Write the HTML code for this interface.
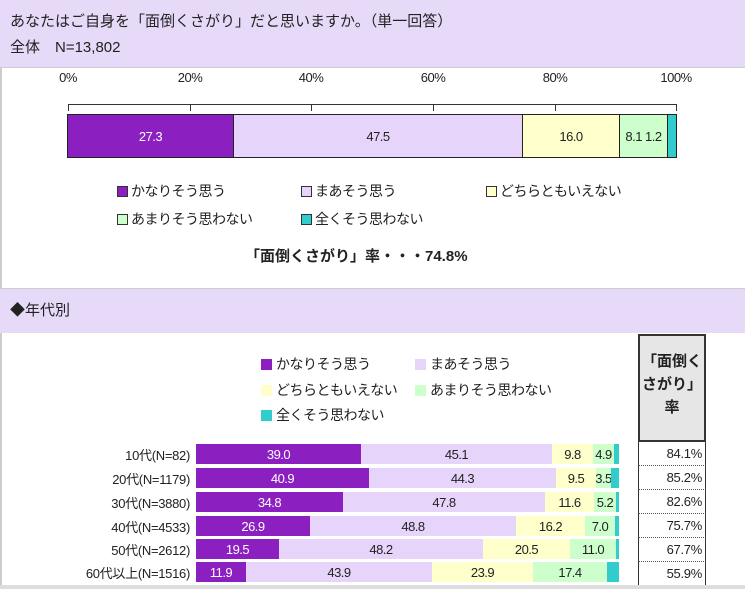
<!DOCTYPE html>
<html><head><meta charset="utf-8"><style>
*{margin:0;padding:0;box-sizing:border-box}
body{width:745px;height:589px;background:#fff;position:relative;overflow:hidden;font-family:"Liberation Sans","Noto Sans CJK JP",sans-serif;color:#222}
.a{position:absolute}
.band{left:0;width:745px;background:#e6daf8}
.bar{display:flex;position:absolute}
.bar div{display:flex;align-items:center;justify-content:center;font-size:13px;white-space:nowrap;overflow:visible;letter-spacing:-0.5px}
.p{background:#8c1fc0;color:#fff}.l{background:#e6d4fb}.y{background:#ffffcc}.g{background:#ccffcc}.t{background:#33cccc}
.tb div{border-right:1px solid #222}
.lg{font-size:14px;display:flex;align-items:center;white-space:nowrap;letter-spacing:-0.5px}
.sq{width:11px;height:11px;margin-right:3px;border:1px solid #333}
.sq2{width:11px;height:11px;margin-right:4px}
.lab{right:555px;font-size:13px;text-align:right;white-space:nowrap;letter-spacing:-0.3px}
.val{left:638px;width:68px;font-size:13px;text-align:right;padding-right:4px;border-bottom:1px dotted #555;height:24px;line-height:24px;letter-spacing:-0.3px}
.ax{font-size:13px;width:60px;text-align:center;top:70px;letter-spacing:-0.5px}
</style></head><body>
<div class="a" style="left:0;top:0;width:2px;height:589px;background:#ccc"></div>
<div class="a band" style="top:0;height:68px;border-bottom:1px solid #ccc"></div>
<div class="a" style="left:10px;top:10px;font-size:15px">あなたはご自身を「面倒くさがり」だと思いますか。（単一回答）</div>
<div class="a" style="left:10px;top:36px;font-size:15px">全体　N=13,802</div>
<div class="a ax" style="left:38px">0%</div>
<div class="a ax" style="left:160px">20%</div>
<div class="a ax" style="left:281px">40%</div>
<div class="a ax" style="left:403px">60%</div>
<div class="a ax" style="left:525px">80%</div>
<div class="a ax" style="left:646px">100%</div>
<div class="a" style="left:68px;top:104px;width:609px;height:1px;background:#333"></div>
<div class="a" style="left:68px;top:104px;width:1px;height:7px;background:#333"></div>
<div class="a" style="left:190px;top:104px;width:1px;height:7px;background:#333"></div>
<div class="a" style="left:311px;top:104px;width:1px;height:7px;background:#333"></div>
<div class="a" style="left:433px;top:104px;width:1px;height:7px;background:#333"></div>
<div class="a" style="left:555px;top:104px;width:1px;height:7px;background:#333"></div>
<div class="a" style="left:676px;top:104px;width:1px;height:7px;background:#333"></div>
<div class="bar tb" style="left:67px;top:114px;width:610px;height:44px;border:1px solid #222">
<div class="p" style="width:166px">27.3</div><div class="l" style="width:289px">47.5</div><div class="y" style="width:97px">16.0</div><div class="g" style="width:48px">8.1 1.2</div><div class="t" style="flex:1;border:none"></div></div>
<div class="a lg" style="left:117px;top:181px"><span class="sq p"></span>かなりそう思う</div>
<div class="a lg" style="left:301px;top:181px"><span class="sq l"></span>まあそう思う</div>
<div class="a lg" style="left:486px;top:181px"><span class="sq y"></span>どちらともいえない</div>
<div class="a lg" style="left:117px;top:209px"><span class="sq g"></span>あまりそう思わない</div>
<div class="a lg" style="left:301px;top:209px"><span class="sq t"></span>全くそう思わない</div>
<div class="a" style="left:245px;top:245px;font-size:15px;font-weight:bold">「面倒くさがり」率・・・74.8%</div>
<div class="a band" style="top:288px;height:45px;border-top:1px solid #ccc"></div>
<div class="a" style="left:10px;top:299px;font-size:15px">◆年代別</div>
<div class="a lg" style="left:261px;top:354px"><span class="sq2 p"></span>かなりそう思う</div>
<div class="a lg" style="left:415px;top:354px"><span class="sq2 l"></span>まあそう思う</div>
<div class="a lg" style="left:261px;top:380px"><span class="sq2 y"></span>どちらともいえない</div>
<div class="a lg" style="left:415px;top:380px"><span class="sq2 g"></span>あまりそう思わない</div>
<div class="a lg" style="left:261px;top:405px"><span class="sq2 t"></span>全くそう思わない</div>
<div class="a" style="left:638px;top:334px;width:68px;height:108px;background:#e6e6e6;border:2px solid #333;font-size:15px;font-weight:bold;text-align:center;line-height:23px;padding-top:14px">「面倒く<br>さがり」<br>率</div>
<div class="a" style="left:638px;top:442px;width:1px;height:147px;background:#333"></div>
<div class="a" style="left:705px;top:442px;width:1px;height:147px;background:#333"></div>

<div class="a lab" style="top:445px">10代(N=82)</div>
<div class="bar" style="left:196px;top:444px;width:423px;height:20px"><div class="p" style="width:165px">39.0</div><div class="l" style="width:191px">45.1</div><div class="y" style="width:41px">9.8</div><div class="g" style="width:21px">4.9</div><div class="t" style="flex:1"></div></div>
<div class="a val" style="top:442px">84.1%</div>

<div class="a lab" style="top:469px">20代(N=1179)</div>
<div class="bar" style="left:196px;top:468px;width:423px;height:20px"><div class="p" style="width:173px">40.9</div><div class="l" style="width:187px">44.3</div><div class="y" style="width:40px">9.5</div><div class="g" style="width:15px">3.5</div><div class="t" style="flex:1"></div></div>
<div class="a val" style="top:466px">85.2%</div>

<div class="a lab" style="top:493px">30代(N=3880)</div>
<div class="bar" style="left:196px;top:492px;width:423px;height:20px"><div class="p" style="width:147px">34.8</div><div class="l" style="width:202px">47.8</div><div class="y" style="width:49px">11.6</div><div class="g" style="width:22px">5.2</div><div class="t" style="flex:1"></div></div>
<div class="a val" style="top:490px">82.6%</div>

<div class="a lab" style="top:517px">40代(N=4533)</div>
<div class="bar" style="left:196px;top:516px;width:423px;height:20px"><div class="p" style="width:114px">26.9</div><div class="l" style="width:206px">48.8</div><div class="y" style="width:69px">16.2</div><div class="g" style="width:30px">7.0</div><div class="t" style="flex:1"></div></div>
<div class="a val" style="top:514px">75.7%</div>

<div class="a lab" style="top:540px">50代(N=2612)</div>
<div class="bar" style="left:196px;top:539px;width:423px;height:20px"><div class="p" style="width:83px">19.5</div><div class="l" style="width:204px">48.2</div><div class="y" style="width:87px">20.5</div><div class="g" style="width:46px">11.0</div><div class="t" style="flex:1"></div></div>
<div class="a val" style="top:538px">67.7%</div>

<div class="a lab" style="top:563px">60代以上(N=1516)</div>
<div class="bar" style="left:196px;top:562px;width:423px;height:20px"><div class="p" style="width:50px">11.9</div><div class="l" style="width:186px">43.9</div><div class="y" style="width:101px">23.9</div><div class="g" style="width:74px">17.4</div><div class="t" style="flex:1"></div></div>
<div class="a val" style="top:562px;border:none">55.9%</div>
<div class="a" style="left:0;top:585px;width:745px;height:4px;background:#ddd"></div>
</body></html>
